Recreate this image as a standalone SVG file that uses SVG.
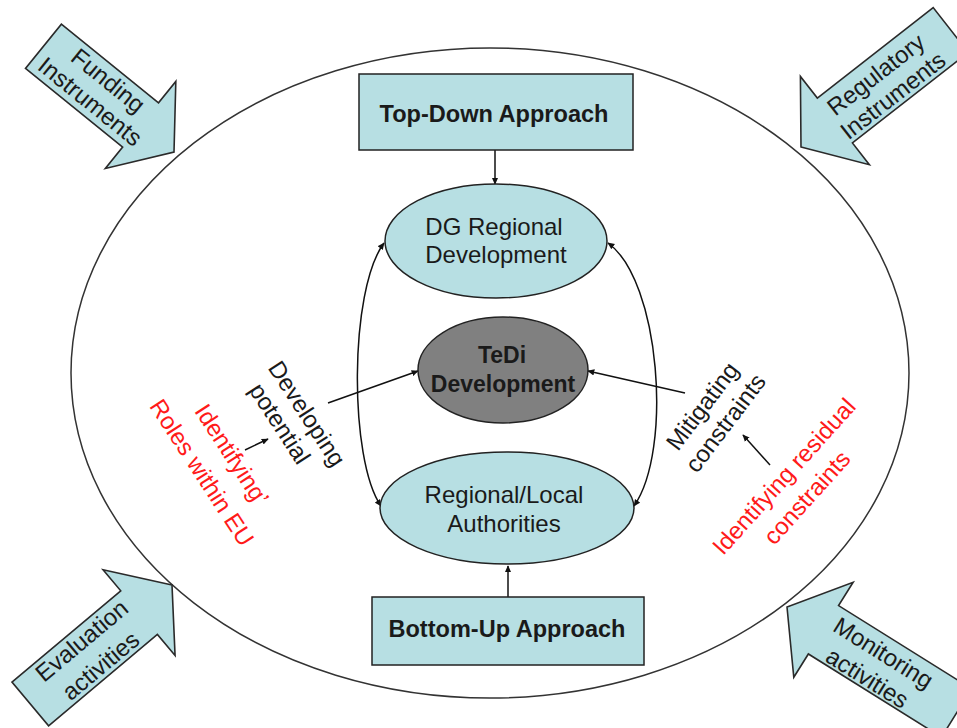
<svg xmlns="http://www.w3.org/2000/svg" width="957" height="728" viewBox="0 0 957 728">
<defs>
<style>
.lbl{font-family:"Liberation Sans",Arial,sans-serif;font-size:24px;fill:#1a1a1a;text-anchor:middle}
.bold{font-weight:bold;font-size:23px}
.red{fill:#ff1a1a}
.node{fill:#b7dfe3;stroke:#222;stroke-width:1.5}
.blk{fill:#b7dfe3;stroke:#2a2a2a;stroke-width:1.6;stroke-linejoin:miter}
.con{fill:none;stroke:#111;stroke-width:1.5}
</style>
<marker id="ah" viewBox="0 0 10 10" refX="9" refY="5" markerWidth="7" markerHeight="7" markerUnits="userSpaceOnUse" orient="auto-start-reverse">
<path d="M0,0.5 L10,5 L0,9.5 Z" fill="#111"/>
</marker>
</defs>
<rect width="957" height="728" fill="#fff"/>
<g id="frame">
<ellipse cx="490" cy="373" rx="419" ry="325" fill="none" stroke="#333" stroke-width="1.5"/>
</g>
<g id="funding">
<path class="blk" transform="translate(174,152) rotate(39)" d="M0,0 L-43,-56 L-43,-28.5 L-168,-28.5 L-168,28.5 L-43,28.5 L-43,56 Z"/>
<text class="lbl" transform="translate(103,87) rotate(39)">Funding</text>
<text class="lbl" transform="translate(85,108) rotate(39)">Instruments</text>
</g>
<g id="regulatory">
<path class="blk" transform="translate(801,147) rotate(142)" d="M0,0 L-43,-56 L-43,-28.5 L-190,-28.5 L-190,28.5 L-43,28.5 L-43,56 Z"/>
<text class="lbl" transform="translate(881,81) rotate(-38)">Regulatory</text>
<text class="lbl" transform="translate(898,102) rotate(-38)">Instruments</text>
</g>
<g id="evaluation">
<path class="blk" transform="translate(172,585) rotate(-40)" d="M0,0 L-43,-56 L-43,-28.5 L-185,-28.5 L-185,28.5 L-43,28.5 L-43,56 Z"/>
<text class="lbl" transform="translate(87,647) rotate(-40)">Evaluation</text>
<text class="lbl" transform="translate(106,672) rotate(-40)">activities</text>
</g>
<g id="monitoring">
<path class="blk" transform="translate(787,607) rotate(212)" d="M0,0 L-43,-56 L-43,-28.5 L-200,-28.5 L-200,28.5 L-43,28.5 L-43,56 Z"/>
<text class="lbl" transform="translate(879,660) rotate(32)">Monitoring</text>
<text class="lbl" transform="translate(863,685) rotate(32)">activities</text>
</g>
<g id="connectors">
<line class="con" x1="495" y1="150" x2="495" y2="184" marker-end="url(#ah)"/>
<line class="con" x1="508" y1="597" x2="508" y2="566" marker-end="url(#ah)"/>
<path class="con" d="M384,243 C349,290 349,460 381,506" marker-start="url(#ah)" marker-end="url(#ah)"/>
<path class="con" d="M608,243 C660,280 673,450 634,506" marker-start="url(#ah)" marker-end="url(#ah)"/>
<line class="con" x1="328" y1="403" x2="418" y2="371" marker-end="url(#ah)"/>
<line class="con" x1="685" y1="393" x2="588" y2="371" marker-end="url(#ah)"/>
<line class="con" x1="245" y1="450" x2="268" y2="439" marker-end="url(#ah)"/>
<line class="con" x1="770" y1="465" x2="743" y2="435" marker-end="url(#ah)"/>
</g>
<g id="topdown">
<rect class="node" x="359" y="74" width="274" height="76" stroke-width="2"/>
<text class="lbl bold" x="494" y="122" textLength="229" lengthAdjust="spacingAndGlyphs">Top-Down Approach</text>
</g>
<g id="bottomup">
<rect class="node" x="372" y="597" width="272" height="68" stroke-width="2"/>
<text class="lbl bold" x="507" y="637" textLength="237" lengthAdjust="spacingAndGlyphs">Bottom-Up Approach</text>
</g>
<g id="dg">
<ellipse class="node" cx="496" cy="241" rx="111" ry="57"/>
<text class="lbl" x="494" y="235">DG Regional</text>
<text class="lbl" x="496" y="263">Development</text>
</g>
<g id="tedi">
<ellipse cx="503" cy="370" rx="85" ry="53" fill="#808080" stroke="#222" stroke-width="1.5"/>
<text class="lbl bold" x="502" y="363">TeDi</text>
<text class="lbl bold" x="503" y="392">Development</text>
</g>
<g id="regional">
<ellipse class="node" cx="507" cy="508" rx="127" ry="56"/>
<text class="lbl" x="504" y="503">Regional/Local</text>
<text class="lbl" x="504" y="532">Authorities</text>
</g>
<g id="labels">
<text class="lbl" transform="translate(300,418) rotate(57)">Developing</text>
<text class="lbl" transform="translate(273,428) rotate(57)">potential</text>
<text class="lbl red" transform="translate(225,459) rotate(57)">Identifying’</text>
<text class="lbl red" transform="translate(195,477) rotate(57)">Roles within EU</text>
<text class="lbl" transform="translate(709,411) rotate(-53)">Mitigating</text>
<text class="lbl" transform="translate(732,428) rotate(-53)">constraints</text>
<text class="lbl red" transform="translate(790,482) rotate(-48)">Identifying residual</text>
<text class="lbl red" transform="translate(813,503) rotate(-48)">constraints</text>
</g>
</svg>
